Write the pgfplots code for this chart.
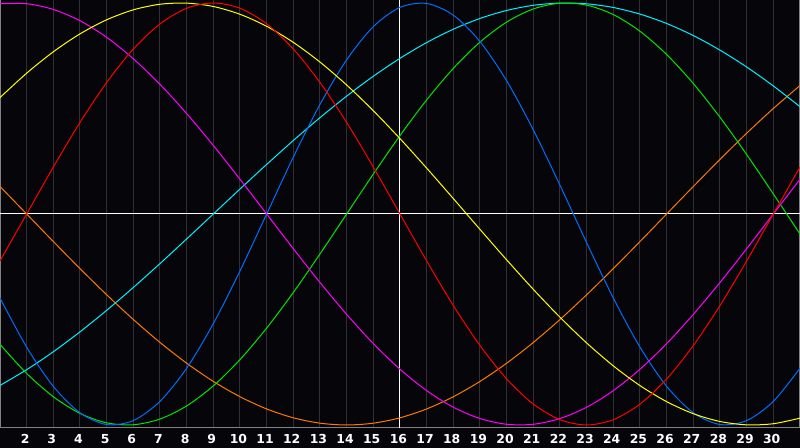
\documentclass[border=0pt]{standalone}
\usepackage{fontspec}
\setmainfont{DejaVu Sans}
\usepackage{xcolor}
\usepackage{pgfplots}
\usepackage{pgfplotstable}
\pgfplotsset{compat=1.18}

\definecolor{bg}{RGB}{5,5,10}
\definecolor{gridgray}{RGB}{48,48,52}
\definecolor{framegray}{RGB}{130,130,130}
\definecolor{cred}{RGB}{255,0,0}
\definecolor{cblue}{RGB}{0,110,255}
\definecolor{cgreen}{RGB}{0,230,0}
\definecolor{cmag}{RGB}{255,0,255}
\definecolor{cyel}{RGB}{255,255,0}
\definecolor{cora}{RGB}{255,120,0}
\definecolor{ccyan}{RGB}{0,240,255}

% day, then one column per cycle (23, 28, 33, 38, 43, 48, 53 days)
\pgfplotstableread{
d   red     blue    green   magenta yellow  orange  cyan
1   -0.2225 -0.3984 -0.6182 0.9966  0.5517  0.1305  -0.8125
2   0       -0.6311 -0.7557 0.9966  0.6673  0       -0.7378
3   0.2225  -0.8170 -0.8660 0.9694  0.7687  -0.1305 -0.6528
4   0.4339  -0.9423 -0.9450 0.9158  0.8536  -0.2588 -0.5586
5   0.6235  -0.9977 -0.9898 0.8372  0.9203  -0.3827 -0.4566
6   0.7818  -0.9791 -0.9989 0.7357  0.9675  -0.5    -0.3482
7   0.9010  -0.8879 -0.9718 0.6142  0.9940  -0.6088 -0.2349
8   0.9749  -0.7308 -0.9096 0.4759  0.9993  -0.7071 -0.1183
9   1       -0.5196 -0.8146 0.3247  0.9834  -0.7934 0
10  0.9749  -0.2698 -0.6901 0.1646  0.9465  -0.8660 0.1183
11  0.9010  0       -0.5406 0       0.8894  -0.9239 0.2349
12  0.7818  0.2698  -0.3717 -0.1646 0.8133  -0.9659 0.3482
13  0.6235  0.5196  -0.1893 -0.3247 0.7199  -0.9914 0.4566
14  0.4339  0.7308  0       -0.4759 0.6112  -1      0.5586
15  0.2225  0.8879  0.1893  -0.6142 0.4894  -0.9914 0.6528
16  0       0.9791  0.3717  -0.7357 0.3572  -0.9659 0.7378
17  -0.2225 0.9977  0.5406  -0.8372 0.2174  -0.9239 0.8125
18  -0.4339 0.9423  0.6901  -0.9158 0.0730  -0.8660 0.8757
19  -0.6235 0.8170  0.8146  -0.9694 -0.0730 -0.7934 0.9267
20  -0.7818 0.6311  0.9096  -0.9966 -0.2174 -0.7071 0.9646
21  -0.9010 0.3984  0.9718  -0.9966 -0.3572 -0.6088 0.9890
22  -0.9749 0.1362  0.9989  -0.9694 -0.4894 -0.5    0.9996
23  -1      -0.1362 0.9898  -0.9158 -0.6112 -0.3827 0.9960
24  -0.9749 -0.3984 0.9450  -0.8372 -0.7199 -0.2588 0.9786
25  -0.9010 -0.6311 0.8660  -0.7357 -0.8133 -0.1305 0.9473
26  -0.7818 -0.8170 0.7557  -0.6142 -0.8894 0       0.9028
27  -0.6235 -0.9423 0.6182  -0.4759 -0.9465 0.1305  0.8456
28  -0.4339 -0.9977 0.4582  -0.3247 -0.9834 0.2588  0.7765
29  -0.2225 -0.9791 0.2817  -0.1646 -0.9993 0.3827  0.6966
30  0       -0.8879 0.0951  0       -0.9940 0.5     0.6068
31  0.2225  -0.7308 -0.0951 0.1646  -0.9675 0.6088  0.5085
}\bio

\begin{document}
\begin{tikzpicture}
\fill[bg] (0,0) rectangle (400pt,224pt);
\begin{axis}[
    at={(0pt,10pt)}, anchor=south west,
    scale only axis,
    width=400pt, height=214pt,
    xmin=1, xmax=31,
    ymin=-1.0142, ymax=1.0142,
    xtick={2,...,30},
    ytick=\empty,
    major tick length=0pt,
    xmajorgrids=true,
    grid style={gridgray, line width=0.5pt},
    extra x ticks={16},
    extra x tick labels={},
    extra x tick style={grid style={white, line width=0.5pt}},
    extra y ticks={0},
    extra y tick labels={},
    extra y tick style={ymajorgrids=true, grid style={white, line width=0.5pt}},
    axis line style={framegray, line width=0.5pt},
    /pgf/number format/assume math mode=true,
    xticklabel style={text=white, font=\bfseries\fontsize{6.2}{7}\selectfont,
        anchor=base, inner sep=0pt, yshift=-7.6pt, xshift=-0.8pt},
    every axis plot/.append style={line width=0.5pt, smooth, no markers},
]
\addplot[cora]    table[x=d, y=orange]  {\bio};
\addplot[ccyan]   table[x=d, y=cyan]    {\bio};
\addplot[cgreen]  table[x=d, y=green]   {\bio};
\addplot[cblue]   table[x=d, y=blue]    {\bio};
\addplot[cmag]    table[x=d, y=magenta] {\bio};
\addplot[cyel]    table[x=d, y=yellow]  {\bio};
\addplot[cred]    table[x=d, y=red]     {\bio};
\end{axis}
\pgfresetboundingbox
\useasboundingbox (0,0) rectangle (400pt,224pt);
\end{tikzpicture}
\end{document}
